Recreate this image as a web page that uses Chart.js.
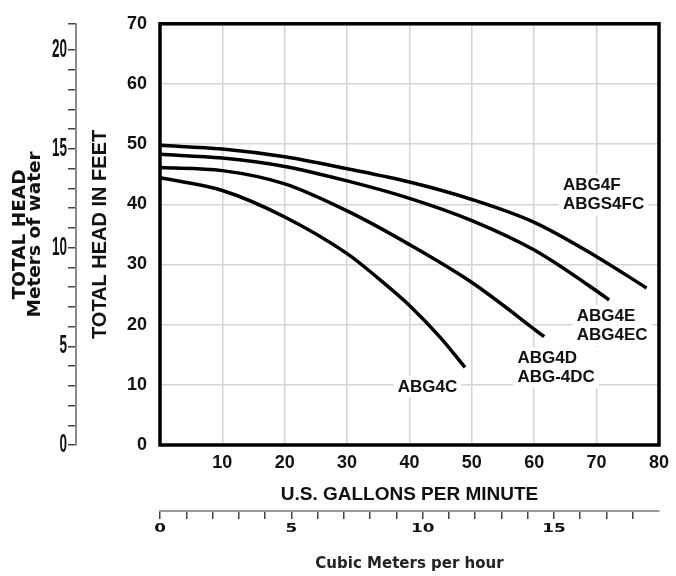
<!DOCTYPE html>
<html><head><meta charset="utf-8">
<script src="https://cdn.jsdelivr.net/npm/chart.js@4.4.1/dist/chart.umd.min.js"></script>
<style>html,body{margin:0;padding:0;background:#fff}#wrap{width:676px;height:576px;position:relative}</style>
</head><body><div id="wrap"><canvas id="c"></canvas></div>
<script>
// ---- data ----
const flowF = [0, 10, 20, 30, 40, 50, 60, 70, 78];
const headF = [49.8, 49.2, 47.9, 45.9, 43.7, 40.8, 37.0, 31.3, 26.1];
const flowE = [0, 10, 20, 30, 40, 50, 60, 70, 72];
const headE = [48.3, 47.7, 46.3, 43.9, 41.0, 37.3, 32.4, 25.6, 24.1];
const flowD = [0, 10, 20, 30, 40, 50, 61.6];
const headD = [46.1, 45.6, 43.4, 38.9, 33.3, 27.0, 18.0];
const flowC = [0, 10, 20, 30, 35, 40, 45, 48.9];
const headC = [44.4, 42.3, 37.9, 31.8, 27.7, 23.2, 17.8, 12.9];
const seriesLabels = [['ABG4F', 'ABGS4FC'], ['ABG4E', 'ABG4EC'], ['ABG4D', 'ABG-4DC'], ['ABG4C']];
const meterTickLabels = [0, 5, 10, 15, 20];      // metres of water
const cubicTickLabels = [0, 5, 10, 15];          // cubic metres per hour
const FT_PER_M = 3.2808;

function pts(xs, ys) { return xs.map((x, i) => ({x: x, y: ys[i]})); }

const SANS = '"Liberation Sans", Arial, Helvetica, sans-serif';
const DJ = '"DejaVu Sans", Verdana, sans-serif';

function mkDs(label, xs, ys) {
  return {label: label, data: pts(xs, ys), borderColor: '#000', borderWidth: 3.5,
    pointRadius: 0, fill: false, cubicInterpolationMode: 'monotone',
    xAxisID: 'x', yAxisID: 'y', borderCapStyle: 'butt'};
}

const labelPlugin = {
  id: 'curveLabels',
  beforeDatasetsDraw(chart, args, opts) {
    const {ctx} = chart;
    const xs = chart.scales.x, ys = chart.scales.y;
    ctx.save();
    ctx.font = 'bold 17px ' + SANS;
    ctx.textBaseline = 'middle';
    ctx.textAlign = 'left';
    opts.anchors.forEach((a, i) => {
      const lines = seriesLabels[i];
      const px = xs.getPixelForValue(a.x), py = ys.getPixelForValue(a.y);
      let w = 0;
      lines.forEach(l => { w = Math.max(w, ctx.measureText(l).width); });
      ctx.fillStyle = '#fff';
      ctx.fillRect(px - 4, py - 11, w + 8, 19 * (lines.length - 1) + 22);
      ctx.fillStyle = '#111';
      lines.forEach((l, k) => ctx.fillText(l, px, py + k * 19));
    });
    ctx.restore();
  },
  afterDatasetsDraw(chart) {
    const {ctx, chartArea: a} = chart;
    ctx.save();
    ctx.strokeStyle = '#000';
    ctx.lineWidth = 3.5;
    ctx.strokeRect(a.left, a.top, a.right - a.left, a.bottom - a.top);
    ctx.restore();
  },
  afterDraw(chart) {
    // secondary-axis tick labels (condensed / extended lettering)
    const {ctx} = chart;
    const y2 = chart.scales.y2, x2 = chart.scales.x2;
    ctx.save();
    ctx.fillStyle = '#111';
    ctx.textBaseline = 'middle';
    ctx.textAlign = 'right';
    ctx.font = 'bold 26px ' + SANS;
    meterTickLabels.forEach(v => {
      const py = y2.getPixelForValue(v);
      ctx.save();
      ctx.translate(y2.right - 9, py);
      ctx.scale(0.52, 1);
      ctx.fillText(String(v), 0, 0);
      ctx.restore();
    });
    ctx.textAlign = 'center';
    ctx.font = 'bold 12.5px ' + DJ;
    cubicTickLabels.forEach(v => {
      const px = x2.getPixelForValue(v);
      ctx.save();
      ctx.translate(px, x2.top + 18);
      ctx.scale(1.35, 1);
      ctx.fillText(String(v), 0, 0);
      ctx.restore();
    });
    ctx.restore();
  }
};

new Chart(document.getElementById('c'), {
  type: 'line',
  data: {datasets: [
    mkDs('ABG4F', flowF, headF),
    mkDs('ABG4E', flowE, headE),
    mkDs('ABG4D', flowD, headD),
    mkDs('ABG4C', flowC, headC)
  ]},
  options: {
    responsive: true, maintainAspectRatio: false, animation: false,
    layout: {padding: {left: 0, top: 20, right: 14, bottom: 0}},
    plugins: {legend: {display: false}, tooltip: {enabled: false},
      curveLabels: {anchors: [{x: 64.6, y: 43.1}, {x: 66.8, y: 21.4}, {x: 57.3, y: 14.4}, {x: 38.1, y: 9.65}]}},
    scales: {
      x: {type: 'linear', position: 'bottom', min: 0, max: 80, weight: 0,
        afterFit(s) { s.height = 66; },
        grid: {color: '#d4d4d4', lineWidth: 1.5, drawTicks: false},
        border: {display: false},
        ticks: {stepSize: 10, padding: 7, color: '#111', font: {family: SANS, size: 18, weight: 'bold'},
          callback: v => v === 0 ? '' : v},
        title: {display: true, text: 'U.S. GALLONS PER MINUTE', color: '#111',
          font: {family: SANS, size: 19, weight: 'bold'}, padding: {top: 0, bottom: 5}}
      },
      x2: {type: 'linear', position: 'bottom', min: 0, max: 19, weight: 10,
        afterFit(s) { s.height = 65; },
        afterBuildTicks(s) { s.ticks = s.ticks.filter(t => t.value <= 18); },
        grid: {drawOnChartArea: false, drawTicks: true, tickLength: 8, color: '#444', lineWidth: 1.5},
        border: {display: true, color: '#999', width: 2},
        ticks: {stepSize: 1, padding: 2, autoSkip: false, maxRotation: 0,
          font: {family: DJ, size: 12, weight: 'bold'}, callback: () => ''},
        title: {display: true, text: 'Cubic Meters per hour', color: '#222',
          font: {family: DJ, size: 15, weight: 'bold'}, padding: {top: 0, bottom: 3}}
      },
      y: {type: 'linear', position: 'left', min: 0, max: 70, weight: 0,
        afterFit(s) { s.width = 84; },
        grid: {color: '#d4d4d4', lineWidth: 1.5, drawTicks: false},
        border: {display: false},
        ticks: {stepSize: 10, padding: 13, color: '#111', font: {family: SANS, size: 18, weight: 'bold'}},
        title: {display: true, text: 'TOTAL HEAD IN FEET', color: '#111',
          font: {family: SANS, size: 20, weight: 'bold'}, padding: {top: 12, bottom: 0}}
      },
      y2: {type: 'linear', position: 'left', min: 0, max: 70 / FT_PER_M, weight: 10,
        afterFit(s) { s.width = 76; },
        grid: {drawOnChartArea: false, drawTicks: true, tickLength: 8, color: '#444', lineWidth: 1.5},
        border: {display: true, color: '#888', width: 2},
        ticks: {stepSize: 1, padding: 2, autoSkip: false,
          font: {family: SANS, size: 12, weight: 'bold'}, callback: () => ''},
        title: {display: true, text: ['TOTAL HEAD', 'Meters of water'], color: '#111',
          font: {family: DJ, size: 18.5, weight: 'bold', lineHeight: 0.82}, padding: {top: 12.5, bottom: 0}}
      }
    }
  },
  plugins: [labelPlugin]
});
</script>
</body></html>
